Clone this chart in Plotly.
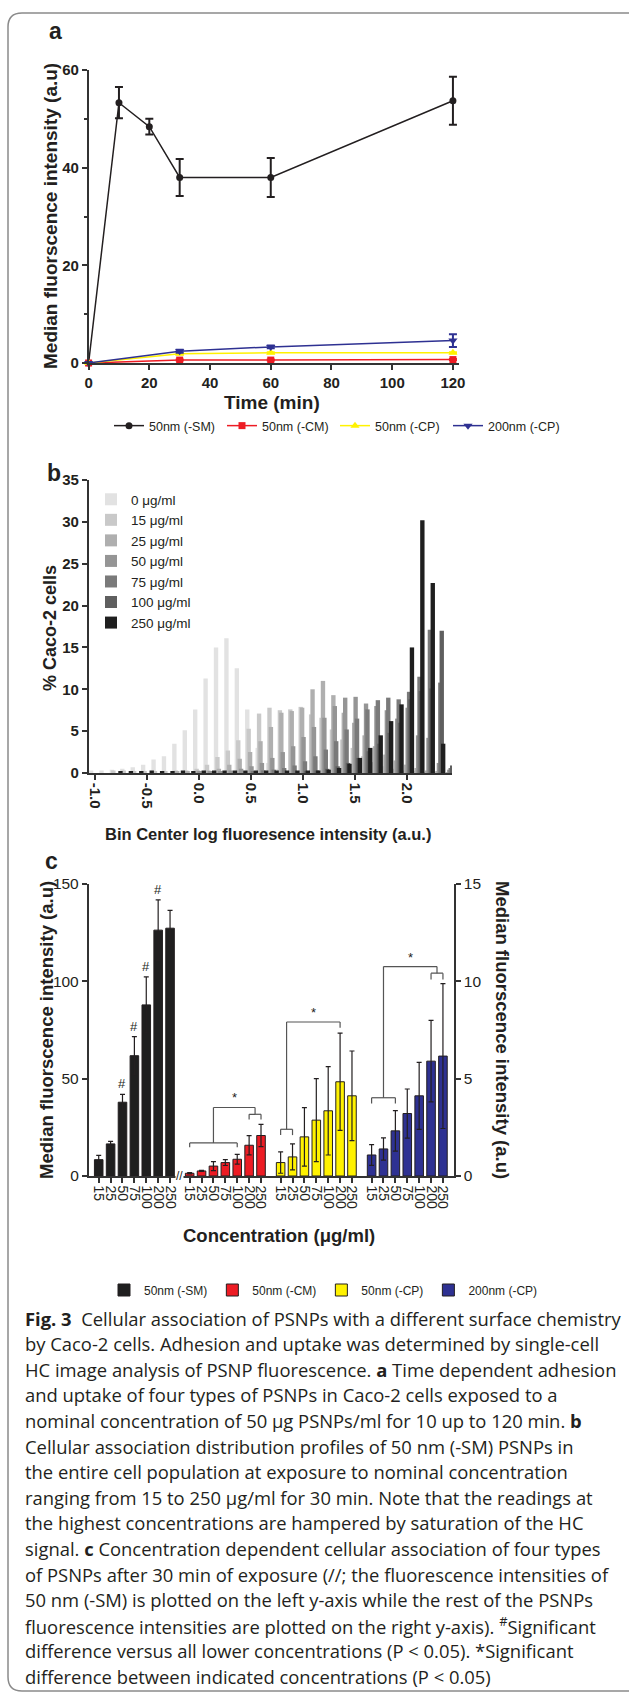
import plotly.graph_objects as go

W, H = 629, 1694
def fx(p): return p / W
def fy(p): return 1 - p / H

FONT = "Liberation Sans, Arial, sans-serif"
CAP_FONT = "Open Sans, Noto Sans, sans-serif"
INK = "#231f20"

# ---------------- panel a : time course ----------------
time_sm = [0, 10, 20, 30, 60, 120]
a_sm = [0, 53.3, 48.4, 38.0, 38.0, 53.7]
a_sm_err = [0, 3.2, 1.6, 3.8, 4.0, 4.9]
time_other = [0, 30, 60, 120]
a_cm = [0, 0.6, 0.6, 0.7]
a_cm_err = [0, 0.1, 0.1, 0.1]
a_cp50 = [0, 1.9, 2.1, 2.1]
a_cp50_err = [0, 0.1, 0.1, 0.1]
a_cp200 = [0, 2.4, 3.3, 4.6]
a_cp200_err = [0, 0.3, 0.3, 1.3]
a_xticks = [0, 20, 40, 60, 80, 100, 120]
a_yticks = [0, 20, 40, 60]

# ---------------- panel b : histogram ----------------
bin_centers = [-1.0, -0.9, -0.8, -0.7, -0.6, -0.5, -0.4, -0.3, -0.2, -0.1,
               0.0, 0.1, 0.2, 0.3, 0.4, 0.5, 0.6, 0.7, 0.8, 0.9,
               1.0, 1.1, 1.2, 1.3, 1.4, 1.5, 1.6, 1.7, 1.8, 1.9,
               2.0, 2.1, 2.2, 2.3, 2.4]
b_labels = ["0 μg/ml", "15 μg/ml", "25 μg/ml", "50 μg/ml", "75 μg/ml", "100 μg/ml", "250 μg/ml"]
b_0 = [0.3, 0.3, 0.4, 0.5, 0.7, 1.0, 1.6, 2.0, 3.5, 5.1,
       7.6, 11.3, 15.0, 16.1, 12.5, 7.6, 3.0, 1.2, 0.5, 0.2,
       0.1, 0, 0, 0, 0, 0, 0, 0, 0, 0,
       0, 0, 0, 0, 0]
b_15 = [0, 0, 0.3, 0.3, 0.2, 0.2, 0.2, 0.2, 0.3, 0.3,
        0.5, 1.0, 1.9, 2.7, 3.9, 5.3, 7.1, 7.8, 7.5, 7.6,
        7.9, 7.0, 6.6, 5.2, 4.0, 3.0, 2.0, 1.3, 0.8, 0.5,
        0.3, 0.2, 0.1, 0.1, 0.0]
b_25 = [0, 0, 0, 0, 0, 0, 0, 0, 0.2, 0.2,
        0.3, 0.3, 0.5, 1.0, 1.7, 2.5, 3.8, 5.5, 7.2, 7.4,
        7.8, 10.0, 11.0, 9.3, 7.2, 6.0, 4.5, 3.2, 2.2, 1.5,
        1.0, 0.6, 0.3, 0.2, 0.1]
b_50 = [0, 0, 0, 0, 0, 0, 0, 0, 0, 0,
        0.2, 0.2, 0.2, 0.3, 0.5, 0.8, 1.2, 1.8, 2.5, 3.2,
        4.3, 5.5, 6.6, 8.0, 9.0, 9.1, 8.3, 8.0, 7.5, 6.5,
        7.8, 4.5, 4.2, 1.2, 0.4]
b_75 = [0, 0, 0, 0, 0, 0, 0, 0, 0, 0,
        0, 0, 0, 0, 0, 0.2, 0.3, 0.4, 0.6, 0.9,
        1.4, 2.0, 2.8, 3.8, 5.2, 6.5, 7.6, 8.7, 9.0, 8.8,
        9.7, 11.5, 17.1, 10.8, 0.6]
b_100 = [0, 0, 0, 0, 0, 0, 0, 0, 0, 0,
         0, 0, 0, 0, 0, 0, 0, 0, 0, 0,
         0.2, 0.3, 0.5, 0.8, 1.2, 1.8, 2.6, 3.5, 4.8, 6.0,
         8.8, 9.8, 10.1, 17.0, 0.9]
b_250 = [0, 0, 0.2, 0.2, 0.2, 0.3, 0.2, 0.2, 0.3, 0.2,
         0.3, 0.3, 0.3, 0.3, 0.3, 0.3, 0.3, 0.3, 0.3, 0.3,
         0.3, 0.3, 0.4, 0.6, 1.1, 1.8, 3.0, 4.5, 6.2, 8.2,
         15.0, 30.2, 22.7, 3.5, 0.0]
b_series = [b_0, b_15, b_25, b_50, b_75, b_100, b_250]
b_colors = ["#e2e2e2", "#c9c9c9", "#afafaf", "#959595", "#7a7a7a", "#5f5f5f", "#1f1f1f"]
b_xticks = [-1.0, -0.5, 0.0, 0.5, 1.0, 1.5, 2.0]
b_xticktext = ["-1.0", "-0.5", "0.0", "0.5", "1.0", "1.5", "2.0"]

# ---------------- panel c : concentration series ----------------
conc = ["15", "25", "50", "75", "100", "200", "250"]
c_names = ["50nm (-SM)", "50nm (-CM)", "50nm (-CP)", "200nm (-CP)"]
c_sm = [8.4, 16.5, 37.9, 61.8, 87.9, 126.3, 127.3]          # left axis
c_sm_err = [2.2, 1.3, 4.0, 9.8, 14.4, 15.5, 9.1]
c_cm = [0.14, 0.26, 0.51, 0.69, 0.86, 1.58, 2.08]           # right axis
c_cm_err = [0.03, 0.03, 0.23, 0.15, 0.25, 0.49, 0.57]
c_cp50 = [0.69, 0.98, 2.01, 2.87, 3.35, 4.84, 4.12]
c_cp50_err = [0.55, 0.67, 1.50, 2.13, 2.27, 2.50, 2.30]
c_cp200 = [1.08, 1.39, 2.32, 3.21, 4.12, 5.90, 6.16]
c_cp200_err = [0.53, 0.57, 1.04, 1.26, 1.72, 2.09, 3.72]
c_colors = ["#1f1f1f", "#ed1c24", "#fff200", "#2e3192"]
group_start = [0, 7.65, 15.3, 22.95]
hash_idx = [2, 3, 4, 5]  # '#' marks on 50nm (-SM)

fig = go.Figure()

# ---- panel a traces
a_specs = [
    (time_sm, a_sm, a_sm_err, "50nm (-SM)", "#231f20", "circle", 7),
    (time_other, a_cm, a_cm_err, "50nm (-CM)", "#ed1c24", "square", 7),
    (time_other, a_cp50, a_cp50_err, "50nm (-CP)", "#fff200", "triangle-up", 8),
    (time_other, a_cp200, a_cp200_err, "200nm (-CP)", "#2e3192", "triangle-down", 8),
]
for xs, ys, es, nm, col, sym, sz in a_specs:
    fig.add_trace(go.Scatter(
        x=xs, y=ys, mode="lines+markers", name=nm, legend="legend",
        line=dict(color=col, width=1.5),
        marker=dict(symbol=sym, size=sz, color=col),
        error_y=dict(type="data", array=es, color=col, thickness=2, width=4),
        xaxis="x", yaxis="y", cliponaxis=False))

# ---- panel b traces
for k, (vals, col, lab) in enumerate(zip(b_series, b_colors, b_labels)):
    off = -0.037 + k * 0.0137
    fig.add_trace(go.Bar(
        x=[b + off for b in bin_centers], y=vals, width=0.042, name=lab,
        marker=dict(color=col, line=dict(width=0)), legend="legend2",
        xaxis="x2", yaxis="y2"))

# ---- panel c traces
c_vals = [c_sm, c_cm, c_cp50, c_cp200]
c_errs = [c_sm_err, c_cm_err, c_cp50_err, c_cp200_err]
c_pos = []
for g in range(4):
    pos = [group_start[g] + i for i in range(len(conc))]
    c_pos.append(pos)
    fig.add_trace(go.Bar(
        x=pos, y=c_vals[g], width=0.72, name=c_names[g], legend="legend3",
        marker=dict(color=c_colors[g], line=dict(color=INK, width=1)),
        error_y=dict(type="data", array=c_errs[g], color=INK, thickness=1.2, width=2.5),
        xaxis="x3", yaxis="y3" if g == 0 else "y4"))

all_pos = [p for grp in c_pos for p in grp]
all_lab = conc * 4

axis_common = dict(showline=True, linecolor="#333333", linewidth=1.5, ticks="outside",
                   tickcolor="#333333", tickwidth=1.5, ticklen=5, showgrid=False,
                   zeroline=False)
bold_tick = dict(family=FONT, size=15, color=INK, weight="bold")

annotations = []
def ann(text, x, y, size=18, angle=0, bold=True, xanchor="center", yanchor="middle",
        family=FONT, **kw):
    annotations.append(dict(text=f"<b>{text}</b>" if bold else text, x=x, y=y,
                            xref="paper", yref="paper", showarrow=False,
                            textangle=angle, xanchor=xanchor, yanchor=yanchor,
                            font=dict(family=family, size=size, color=INK), **kw))

# panel labels and titles
ann("a", fx(56), fy(31), size=23)
ann("Median fluorscence intensity (a.u)", fx(51), fy(216), size=19, angle=-90)
ann("Time (min)", fx(272), fy(402), size=19)
ann("b", fx(54), fy(473), size=23)
ann("% Caco-2 cells", fx(50), fy(628), size=18, angle=-90)
ann("Bin Center log fluoresence intensity (a.u.)", fx(268), fy(834), size=16.5)
ann("c", fx(51), fy(861), size=23)
ann("Median fluorscence intensity (a.u)", fx(46), fy(1030), size=18.5, angle=-90)
ann("Median fluorscence intensity (a.u)", fx(503), fy(1030), size=18.5, angle=90)
ann("Concentration (μg/ml)", fx(279), fy(1235), size=18.5)

# '#' significance marks
for i in hash_idx:
    annotations.append(dict(text="#", x=c_pos[0][i], y=c_sm[i] + c_sm_err[i], xref="x3", yref="y3",
                            showarrow=False, yanchor="bottom", yshift=1,
                            font=dict(family=FONT, size=13, color=INK)))
# axis break mark
annotations.append(dict(text="//", x=(c_pos[0][-1] + c_pos[1][0]) / 2, y=0, xref="x3", yref="y3",
                        showarrow=False, bgcolor="white", borderpad=0,
                        font=dict(family=FONT, size=12, color=INK)))

# brackets (right-axis units)
shapes = []
def seg(x0, y0, x1, y1):
    shapes.append(dict(type="line", xref="x3", yref="y4", x0=x0, y0=y0, x1=x1, y1=y1,
                       line=dict(color="#555555", width=1.2)))
def bracket(g, i0, i1, y, drop):
    xa, xb = c_pos[g][i0], c_pos[g][i1]
    seg(xa, y, xb, y); seg(xa, y, xa, y - drop); seg(xb, y, xb, y - drop)
    return (xa + xb) / 2
def star(x, y):
    annotations.append(dict(text="*", x=x, y=y, xref="x3", yref="y4", showarrow=False,
                            yanchor="bottom", yshift=0, font=dict(family=FONT, size=13, color=INK)))

# 50nm (-CM)
m1 = bracket(1, 0, 4, 1.70, 0.22)
m2 = bracket(1, 5, 6, 3.17, 0.27)
seg(m1, 1.70, m1, 3.52); seg(m2, 3.17, m2, 3.52); seg(m1, 3.52, m2, 3.52); star((m1 + m2) / 2, 3.52)
# 50nm (-CP)
m1 = bracket(2, 0, 1, 2.40, 0.30)
x5 = c_pos[2][5]
seg(m1, 2.40, m1, 7.91); seg(m1, 7.91, x5, 7.91); seg(x5, 7.91, x5, 7.62); star((m1 + x5) / 2, 7.91)
# 200nm (-CP)
m1 = bracket(3, 0, 2, 4.02, 0.30)
m2 = bracket(3, 5, 6, 10.42, 0.32)
seg(m1, 4.02, m1, 10.76); seg(m2, 10.42, m2, 10.76); seg(m1, 10.76, m2, 10.76); star((m1 + m2) / 2, 10.76)

# outer rounded frame
r = 14
frame = (f"M {fx(8)},{fy(1691 - r)} L {fx(8)},{fy(13 + r)} Q {fx(8)},{fy(13)} {fx(8 + r)},{fy(13)} "
         f"L {fx(660)},{fy(13)} M {fx(8)},{fy(1691 - r)} Q {fx(8)},{fy(1691)} {fx(8 + r)},{fy(1691)} "
         f"L {fx(660)},{fy(1691)}")
shapes.append(dict(type="path", xref="paper", yref="paper", path=frame,
                   line=dict(color="#8a8a8a", width=1.5)))

# caption
cap_lines = [
    "<b>Fig. 3</b>  Cellular association of PSNPs with a different surface chemistry",
    "by Caco-2 cells. Adhesion and uptake was determined by single-cell",
    "HC image analysis of PSNP fluorescence. <b>a</b> Time dependent adhesion",
    "and uptake of four types of PSNPs in Caco-2 cells exposed to a",
    "nominal concentration of 50 µg PSNPs/ml for 10 up to 120 min. <b>b</b>",
    "Cellular association distribution profiles of 50 nm (-SM) PSNPs in",
    "the entire cell population at exposure to nominal concentration",
    "ranging from 15 to 250 µg/ml for 30 min. Note that the readings at",
    "the highest concentrations are hampered by saturation of the HC",
    "signal. <b>c</b> Concentration dependent cellular association of four types",
    "of PSNPs after 30 min of exposure (//; the fluorescence intensities of",
    "50 nm (-SM) is plotted on the left y-axis while the rest of the PSNPs",
    "fluorescence intensities are plotted on the right y-axis). <sup>#</sup>Significant",
    "difference versus all lower concentrations (P &lt; 0.05). *Significant",
    "difference between indicated concentrations (P &lt; 0.05)",
]
for j, line in enumerate(cap_lines):
    annotations.append(dict(text=line, x=fx(23), y=fy(1318 + j * 25.6), xref="paper", yref="paper",
                            showarrow=False, xanchor="left", yanchor="middle", align="left",
                            font=dict(family=CAP_FONT, size=18.4, color=INK)))

fig.update_layout(
    width=W, height=H, margin=dict(l=0, r=0, t=0, b=0, autoexpand=False),
    paper_bgcolor="white", plot_bgcolor="white", barmode="overlay",
    font=dict(family=FONT, color=INK),
    xaxis=dict(domain=[fx(88.6), fx(459)], range=[0, 122], anchor="y", tickvals=a_xticks,
               tickfont=bold_tick, **axis_common),
    yaxis=dict(domain=[fy(363), fy(70)], range=[0, 60], anchor="x", tickvals=a_yticks,
               tickfont=bold_tick, minor=dict(tickvals=[10, 30, 50], ticks="outside", ticklen=3,
                                              tickcolor="#333333", tickwidth=1.5), **axis_common),
    xaxis2=dict(domain=[fx(88.6), fx(452)], range=[-1.061, 2.43], anchor="y2", tickvals=b_xticks,
                ticktext=b_xticktext, tickangle=90, tickfont=bold_tick, **axis_common),
    yaxis2=dict(domain=[fy(773), fy(480)], range=[0, 35], anchor="x2", dtick=5,
                tickfont=bold_tick, **axis_common),
    xaxis3=dict(domain=[fx(88.6), fx(454)], range=[-0.85, 29.88], anchor="y3", tickvals=all_pos,
                ticktext=all_lab, tickangle=90,
                tickfont=dict(family=FONT, size=14, color=INK), **axis_common),
    yaxis3=dict(domain=[fy(1176), fy(884)], range=[0, 150], anchor="x3", tickvals=[0, 50, 100, 150],
                tickfont=dict(family=FONT, size=15.5, color=INK), **axis_common),
    yaxis4=dict(range=[0, 15], overlaying="y3", side="right", anchor="x3", tickvals=[0, 5, 10, 15],
                tickfont=dict(family=FONT, size=15.5, color=INK), **axis_common),
    legend=dict(orientation="h", x=fx(109), y=fy(426), xanchor="left", yanchor="middle",
                font=dict(family=FONT, size=12.5, color=INK), bgcolor="rgba(0,0,0,0)",
                entrywidth=68, entrywidthmode="pixels"),
    legend2=dict(orientation="v", x=fx(91), y=fy(484), xanchor="left", yanchor="top",
                 font=dict(family=FONT, size=13.5, color=INK), bgcolor="rgba(0,0,0,0)",
                 tracegroupgap=0),
    legend3=dict(orientation="h", x=fx(104), y=fy(1290), xanchor="left", yanchor="middle",
                 font=dict(family=FONT, size=12, color=INK), bgcolor="rgba(0,0,0,0)"),
    annotations=annotations, shapes=shapes,
)

fig.write_html("out.html", config={"displayModeBar": False},
               post_script="document.body.style.margin='0px';")
